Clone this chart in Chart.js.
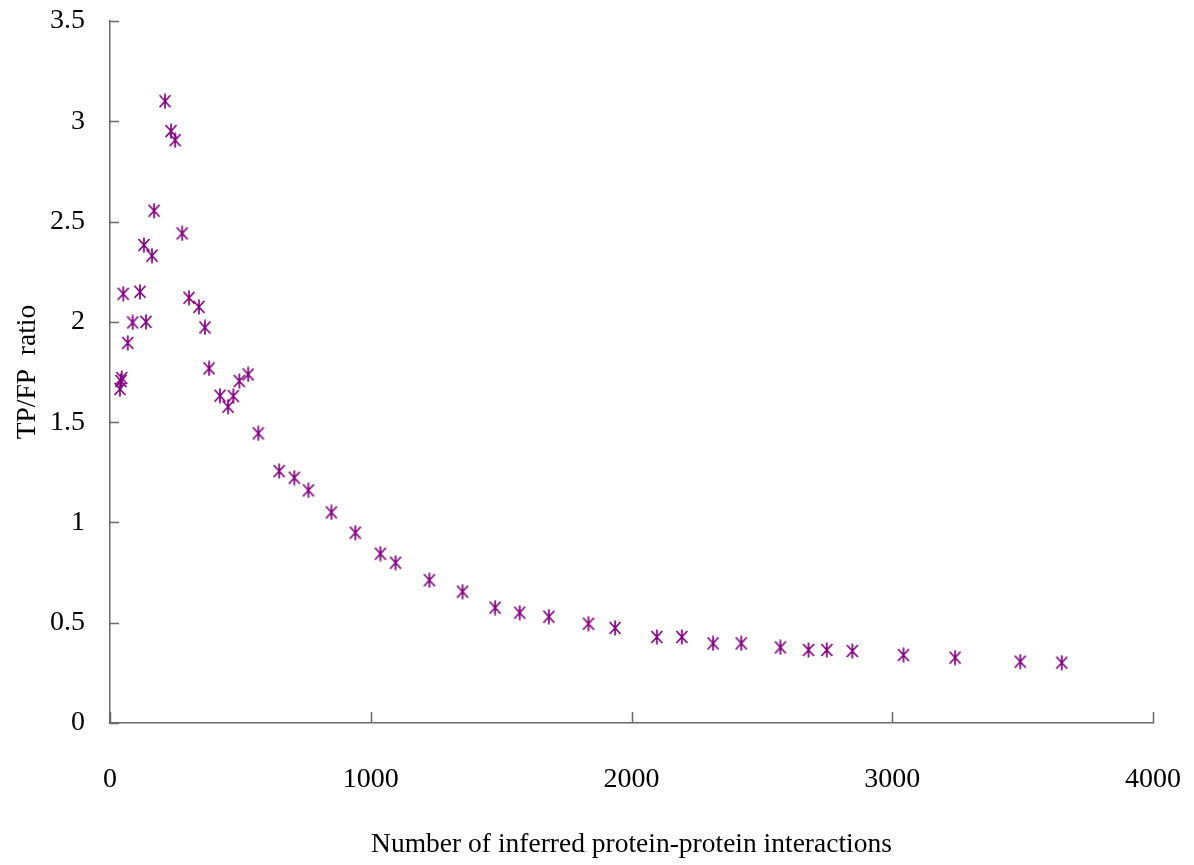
<!DOCTYPE html>
<html>
<head>
<meta charset="utf-8">
<script src="https://cdn.jsdelivr.net/npm/chart.js@4/dist/chart.umd.min.js"></script>
<style>
  html, body { margin: 0; padding: 0; background: #fff; }
  #wrap { width: 1194px; height: 865px; }
</style>
</head>
<body>
<div id="wrap"><canvas id="c" width="1194" height="865"></canvas></div>
<script>
const xValues = [38, 42, 45, 51, 68, 87, 115, 130, 138, 161, 169, 211, 234, 250, 277, 303, 341, 364, 380, 422, 453, 473, 496, 530, 569, 649, 707, 761, 849, 941, 1037, 1095, 1225, 1352, 1477, 1571, 1683, 1835, 1937, 2097, 2193, 2313, 2421, 2571, 2679, 2749, 2847, 3043, 3241, 3491, 3650];
const yValues = [1.665, 1.705, 1.72, 2.14, 1.895, 1.997, 2.15, 2.383, 2.0, 2.33, 2.554, 3.10, 2.951, 2.906, 2.441, 2.12, 2.075, 1.972, 1.768, 1.632, 1.577, 1.630, 1.705, 1.738, 1.444, 1.256, 1.223, 1.160, 1.050, 0.949, 0.844, 0.799, 0.712, 0.655, 0.575, 0.550, 0.530, 0.495, 0.474, 0.429, 0.429, 0.397, 0.397, 0.377, 0.364, 0.364, 0.359, 0.339, 0.326, 0.306, 0.301];
const xTickValues = [0, 1000, 2000, 3000, 4000];
const yTickValues = [0, 0.5, 1, 1.5, 2, 2.5, 3, 3.5];
const xTickLabels = ['0', '1000', '2000', '3000', '4000'];
const yTickLabels = ['0', '0.5', '1', '1.5', '2', '2.5', '3', '3.5'];
const xTitle = 'Number of inferred protein-protein interactions';
const yTitle = 'TP/FP  ratio';

const points = xValues.map((x, i) => ({ x: x, y: yValues[i] }));

// marker: X with a vertical stroke
const mk = document.createElement('canvas');
mk.width = 14; mk.height = 16;
(function () {
  const g = mk.getContext('2d');
  g.strokeStyle = '#800080';
  g.lineWidth = 1.7;
  g.beginPath();
  g.moveTo(1.5, 2); g.lineTo(12.5, 14);
  g.moveTo(12.5, 2); g.lineTo(1.5, 14);
  g.moveTo(7, 0.5); g.lineTo(7, 15.5);
  g.stroke();
})();

const axisColor = '#6a6a6a';
const innerTicks = {
  id: 'innerTicks',
  afterDraw(chart) {
    const ctx = chart.ctx;
    const a = chart.chartArea;
    const xs = chart.scales.x, ys = chart.scales.y;
    ctx.save();
    ctx.strokeStyle = axisColor;
    ctx.lineWidth = 1.5;
    ctx.beginPath();
    yTickValues.forEach(v => {
      const p = Math.round(ys.getPixelForValue(v)) + 0.5;
      ctx.moveTo(a.left, p); ctx.lineTo(a.left + 9, p);
    });
    xTickValues.forEach(v => {
      const p = Math.round(xs.getPixelForValue(v)) + 0.5;
      ctx.moveTo(p, a.bottom); ctx.lineTo(p, a.bottom - 11);
    });
    ctx.stroke();
    ctx.restore();
  }
};

const tickFont = { family: "'Liberation Serif', 'Times New Roman', serif", size: 28 };
const titleFont = { family: "'Liberation Serif', 'Times New Roman', serif", size: 27.5 };

new Chart(document.getElementById('c'), {
  type: 'scatter',
  data: {
    datasets: [{
      data: points,
      pointStyle: mk,
      pointRadius: 7,
      borderColor: '#800080',
      backgroundColor: '#800080'
    }]
  },
  options: {
    responsive: false,
    animation: false,
    layout: { padding: { left: 0, top: 21, right: 41, bottom: 0 } },
    plugins: { legend: { display: false }, tooltip: { enabled: false } },
    scales: {
      x: {
        type: 'linear',
        min: 0, max: 4000,
        afterBuildTicks(s) { s.ticks = xTickValues.map(v => ({ value: v })); },
        afterFit(s) { s.height = 142; s.paddingLeft = 0; s.paddingRight = 0; },
        grid: { display: false, drawTicks: false },
        border: { display: true, color: axisColor, width: 1.5 },
        ticks: {
          color: '#000', font: tickFont, padding: 40, maxRotation: 0, autoSkip: false,
          callback: (v) => xTickLabels[xTickValues.indexOf(v)] ?? String(v)
        },
        title: { display: true, text: xTitle, color: '#000', font: titleFont, padding: { top: 0, bottom: 4 } }
      },
      y: {
        type: 'linear',
        min: 0, max: 3.5,
        afterBuildTicks(s) { s.ticks = yTickValues.map(v => ({ value: v })); },
        afterFit(s) { s.width = 110; s.paddingTop = 0; s.paddingBottom = 0; },
        grid: { display: false, drawTicks: false },
        border: { display: true, color: axisColor, width: 1.5 },
        ticks: {
          color: '#000', font: tickFont, padding: 25, autoSkip: false,
          callback: (v) => yTickLabels[yTickValues.indexOf(v)] ?? String(v)
        },
        title: { display: true, text: yTitle, color: '#000', font: titleFont, padding: { top: 11, bottom: 0 } }
      }
    }
  },
  plugins: [innerTicks]
});
</script>
</body>
</html>
